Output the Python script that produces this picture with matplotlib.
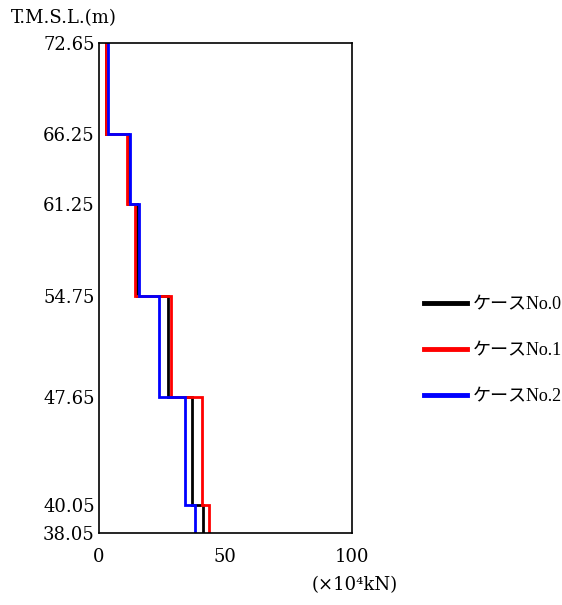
import numpy as np
import matplotlib.pyplot as plt

# 標高 (T.M.S.L.) と各区間の値
levels = [72.65, 66.25, 61.25, 54.75, 47.65, 40.05, 38.05]
case0 = [3.0, 11.6, 15.0, 27.2, 37.0, 41.0]
case1 = [2.7, 11.0, 14.4, 28.4, 40.6, 43.4]
case2 = [3.4, 12.3, 15.9, 23.8, 34.0, 38.1]
labels = ["ケースNo.0", "ケースNo.1", "ケースNo.2"]
colors = ["black", "red", "blue"]

fam = ["DejaVu Serif", "Noto Sans CJK JP"]
plt.rcParams["font.family"] = fam

fig = plt.figure(figsize=(5.62, 6.05), dpi=100)
ax = fig.add_axes([0.176, 0.119, 0.45, 0.810])

ys = np.repeat(levels, 2)[1:-1]
for vals, c, lab in zip([case0, case1, case2], colors, labels):
    xs = np.repeat(vals, 2)
    ax.plot(xs, ys, color=c, lw=2.0, label=lab, solid_joinstyle="miter")

ax.set_xlim(0, 100)
ax.set_ylim(38.05, 72.65)
ax.set_xticks([0, 50, 100])
ax.set_yticks(levels)
ax.set_yticklabels(["%.2f" % v for v in levels])
ax.tick_params(length=0, labelsize=13)
ax.tick_params(axis="y", pad=3)
ax.tick_params(axis="x", pad=11)
for s in ax.spines.values():
    s.set_linewidth(1.2)

fig.text(0.02, 0.970, "T.M.S.L.(m)", fontsize=13, ha="left", va="center")
fig.text(0.632, 0.033, "(×10⁴kN)", fontsize=13, ha="center", va="center")

leg = ax.legend(loc="center left", bbox_to_anchor=(1.22, 0.371), frameon=False,
                prop={"family": ["Liberation Serif", "Noto Sans CJK JP"], "size": 13},
                handlelength=2.4, handletextpad=0.3, labelspacing=1.6)
for h in leg.legend_handles:
    h.set_linewidth(3.5)

fig.savefig("out.png", dpi=100)
